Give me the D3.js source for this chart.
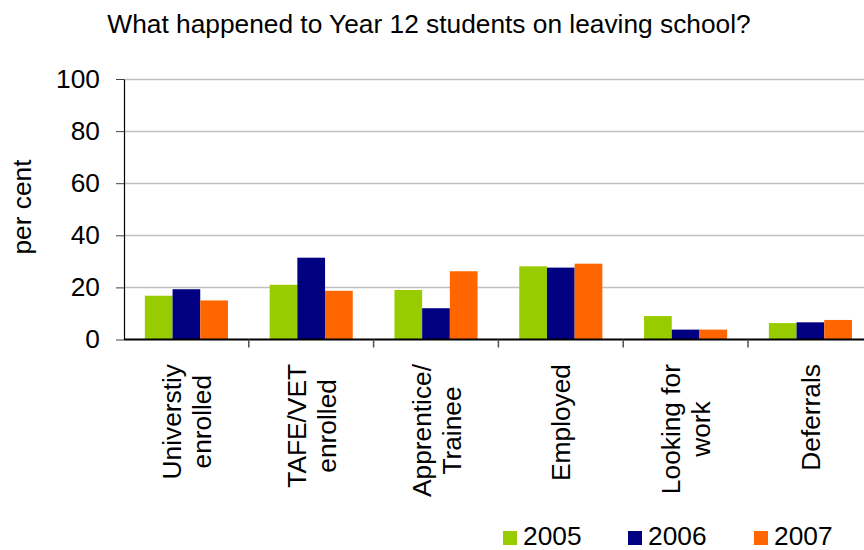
<!DOCTYPE html>
<html>
<head>
<meta charset="utf-8">
<script src="https://cdn.jsdelivr.net/npm/d3@7"></script>
<style>
  html, body { margin: 0; padding: 0; background: #fff; }
  svg { display: block; font-family: "Liberation Sans", Arial, sans-serif; }
</style>
</head>
<body>
<svg id="chart" width="864" height="550"></svg>
<script>
// Destinations of Year 12 leavers, per cent of students
const categories = [
  ["Universtiy", "enrolled"],
  ["TAFE/VET", "enrolled"],
  ["Apprentice/", "Trainee"],
  ["Employed"],
  ["Looking for", "work"],
  ["Deferrals"]
];
const years = ["2005", "2006", "2007"];
const values2005 = [16.8, 21.0, 19.0, 28.1, 9.0, 6.3];
const values2006 = [19.3, 31.4, 12.0, 27.6, 3.8, 6.6];
const values2007 = [15.0, 18.7, 26.2, 29.1, 3.8, 7.5];
const yTicks = [0, 20, 40, 60, 80, 100];
const colors = ["#99CC00", "#000080", "#FF6600"];

const series = [values2005, values2006, values2007];
const catKeys = categories.map(c => c.join(" "));

const svg = d3.select("#chart");
const W = 864;
const plotLeft = 124, plotRight = 872.8, plotTop = 79, plotBottom = 339.5;
const fontSize = 26.3;

const x = d3.scaleBand().domain(catKeys).range([plotLeft, plotRight]).paddingInner(0).paddingOuter(0);
const x1 = d3.scaleBand().domain(years).range([0, x.bandwidth()]).paddingInner(0).paddingOuter(0.753);
const y = d3.scaleLinear().domain([0, 100]).range([plotBottom, plotTop]);
const color = d3.scaleOrdinal().domain(years).range(colors);

// Horizontal gridlines
svg.append("g")
  .selectAll("line")
  .data(yTicks.filter(t => t > 0))
  .join("line")
  .attr("x1", plotLeft).attr("x2", W)
  .attr("y1", d => Math.round(y(d)) + 0.5).attr("y2", d => Math.round(y(d)) + 0.5)
  .attr("stroke", "#c0c0c0").attr("stroke-width", 1.5);

// Bars
const groups = svg.append("g")
  .selectAll("g")
  .data(catKeys)
  .join("g")
  .attr("transform", d => `translate(${x(d)},0)`);

groups.selectAll("rect")
  .data((d, i) => years.map((yr, s) => ({ yr, v: series[s][i] })))
  .join("rect")
  .attr("x", d => x1(d.yr))
  .attr("y", d => y(d.v))
  .attr("width", x1.bandwidth())
  .attr("height", d => y(0) - y(d.v))
  .attr("fill", d => color(d.yr));

// Y axis
const yAxis = svg.append("g")
  .attr("transform", `translate(${plotLeft},0)`)
  .call(d3.axisLeft(y).tickValues(yTicks).tickSize(8).tickPadding(16).tickSizeOuter(0));
yAxis.select(".domain").attr("stroke", "#000").attr("stroke-width", 1.2);
yAxis.selectAll(".tick line").attr("stroke", "#404040");
yAxis.selectAll(".tick text")
  .attr("font-size", fontSize).attr("fill", "#000")
  .attr("font-family", "Liberation Sans, Arial, sans-serif");

// X axis baseline and category separators
svg.append("line")
  .attr("x1", plotLeft).attr("x2", W)
  .attr("y1", plotBottom).attr("y2", plotBottom)
  .attr("stroke", "#000").attr("stroke-width", 2);

const sepPositions = catKeys.map(k => x(k)).concat([plotRight]).slice(1);
svg.append("g")
  .selectAll("line")
  .data(sepPositions)
  .join("line")
  .attr("x1", d => d).attr("x2", d => d)
  .attr("y1", plotBottom).attr("y2", plotBottom + 8)
  .attr("stroke", "#505050").attr("stroke-width", 1.5);

// Category labels, rotated; lines centred on each other, block ends just below the axis
const lineH = 30;
svg.append("g")
  .selectAll("text")
  .data(categories)
  .join("text")
  .attr("transform", (d, i) => `translate(${x(catKeys[i]) + x.bandwidth() / 2},364) rotate(-90)`)
  .attr("text-anchor", "middle")
  .attr("font-size", fontSize)
  .attr("fill", "#000")
  .each(function(lines) {
    const t = d3.select(this);
    const spans = lines.map((ln, j) =>
      t.append("tspan")
        .attr("y", (j - (lines.length - 1) / 2) * lineH + 9.5)
        .text(ln));
    const maxW = d3.max(spans, s => s.node().getComputedTextLength());
    spans.forEach(s => s.attr("x", -maxW / 2));
  });

// Y axis title
svg.append("text")
  .attr("transform", "translate(31,207) rotate(-90)")
  .attr("text-anchor", "middle")
  .attr("font-size", fontSize)
  .text("per cent");

// Chart title
svg.append("text")
  .attr("x", 429).attr("y", 33)
  .attr("text-anchor", "middle")
  .attr("font-size", fontSize)
  .text("What happened to Year 12 students on leaving school?");

// Legend
const legendX = [503, 628, 754];
const legend = svg.append("g")
  .selectAll("g")
  .data(years)
  .join("g")
  .attr("transform", (d, i) => `translate(${legendX[i]},0)`);
legend.append("rect")
  .attr("x", 0).attr("y", 531)
  .attr("width", 14).attr("height", 14)
  .attr("fill", d => color(d));
legend.append("text")
  .attr("x", 20).attr("y", 545)
  .attr("font-size", fontSize)
  .text(d => d);
</script>
</body>
</html>
